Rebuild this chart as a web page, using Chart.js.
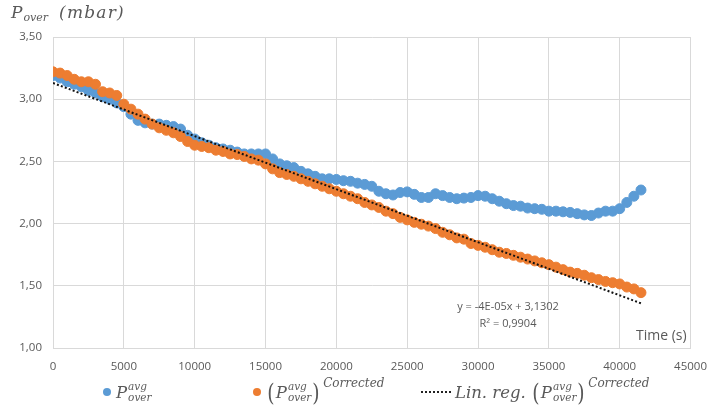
<!DOCTYPE html>
<html>
<head>
<meta charset="utf-8">
<script src="https://cdn.jsdelivr.net/npm/chart.js@4"></script>
<style>
    body { margin: 0; background: #fff; }
    #wrap { position: relative; width: 719px; height: 413px; }
    .math { font-family: 'DejaVu Serif', serif; font-style: italic; color: #595959; }
    #titulo { position: absolute; left: 11px; top: 2px; font-size: 17px; display: flex; align-items: flex-start; }
    #titulo .sub { font-size: 11px; margin-top: 9px; margin-left: 1px; }
    #titulo .unit { margin-left: 11px; letter-spacing: 1.2px; }
    .txt { position: absolute; font-family: 'Open Sans', sans-serif; color: #595959; white-space: nowrap; }
    #eq { left: 450px; top: 297px; font-size: 11px; line-height: 17px; text-align: center; width: 116px; }
    #tiempo { left: 636px; top: 325px; font-size: 14px; }
    .leg { position: absolute; top: 376px; height: 32px; display: flex; align-items: center; font-size: 16.5px; }
    .dot { width: 8px; height: 8px; border-radius: 50%; margin-right: 5px; }
    .ss { display: inline-flex; flex-direction: column; font-size: 10.5px; line-height: 11px; margin-left: 1px; }
    .par { font-family: 'DejaVu Serif', serif; font-style: normal; font-size: 25px; line-height: 25px; display: inline-block; transform: scaleX(0.75); }
    .sup { font-size: 12px; line-height: 12px; align-self: flex-start; margin-top: 1px; margin-left: 2px; }
    .dots { width: 30px; border-top: 2px dotted #222; margin-right: 4px; }
</style>
</head>
<body>
<div id="wrap">
    <canvas id="grafica" width="719" height="413"></canvas>
    <div id="titulo" class="math"><span>P</span><span class="sub">over</span><span class="unit">(mbar)</span></div>
    <div id="eq" class="txt">y = -4E-05x + 3,1302<br>R² = 0,9904</div>
    <div id="tiempo" class="txt">Time (s)</div>
    <div class="leg math" style="left:103px">
        <span class="dot" style="background:#5B9BD5"></span>P<span class="ss"><span>avg</span><span>over</span></span>
    </div>
    <div class="leg math" style="left:253px">
        <span class="dot" style="background:#ED7D31"></span><span class="par">(</span>P<span class="ss"><span>avg</span><span>over</span></span><span class="par">)</span><span class="sup">Corrected</span>
    </div>
    <div class="leg math" style="left:421px">
        <span class="dots"></span>Lin. reg.&nbsp;<span class="par">(</span>P<span class="ss"><span>avg</span><span>over</span></span><span class="par">)</span><span class="sup">Corrected</span>
    </div>
</div>
<script>
// ==========================================
// DATOS
// ==========================================
const tiempos = [
    0, 500, 1000, 1500, 2000, 2500, 3000, 3500, 4000, 4500,
    5000, 5500, 6000, 6500, 7000, 7500, 8000, 8500, 9000, 9500,
    10000, 10500, 11000, 11500, 12000, 12500, 13000, 13500, 14000, 14500,
    15000, 15500, 16000, 16500, 17000, 17500, 18000, 18500, 19000, 19500,
    20000, 20500, 21000, 21500, 22000, 22500, 23000, 23500, 24000, 24500,
    25000, 25500, 26000, 26500, 27000, 27500, 28000, 28500, 29000, 29500,
    30000, 30500, 31000, 31500, 32000, 32500, 33000, 33500, 34000, 34500,
    35000, 35500, 36000, 36500, 37000, 37500, 38000, 38500, 39000, 39500,
    40000, 40500, 41000, 41500
];

const pOverAvg = [
    3.19, 3.17, 3.14, 3.12, 3.10, 3.07, 3.05, 3.02, 3.00, 2.97,
    2.94, 2.88, 2.83, 2.81, 2.80, 2.80, 2.79, 2.78, 2.76, 2.71,
    2.68, 2.65, 2.63, 2.61, 2.60, 2.59, 2.575, 2.56, 2.56, 2.56,
    2.56, 2.52, 2.48, 2.465, 2.45, 2.42, 2.40, 2.38, 2.36, 2.36,
    2.355, 2.345, 2.34, 2.325, 2.315, 2.30, 2.26, 2.24, 2.23, 2.25,
    2.255, 2.235, 2.21, 2.21, 2.24, 2.225, 2.21, 2.20, 2.205, 2.21,
    2.225, 2.22, 2.20, 2.18, 2.16, 2.145, 2.14, 2.125, 2.12, 2.115,
    2.10, 2.10, 2.095, 2.09, 2.08, 2.07, 2.065, 2.085, 2.10, 2.10,
    2.12, 2.17, 2.22, 2.27
];

const pOverCorr = [
    3.22, 3.21, 3.19, 3.16, 3.14, 3.14, 3.12, 3.06, 3.05, 3.03,
    2.96, 2.92, 2.88, 2.84, 2.80, 2.77, 2.75, 2.73, 2.70, 2.66,
    2.63, 2.62, 2.61, 2.59, 2.58, 2.56, 2.555, 2.54, 2.52, 2.51,
    2.48, 2.44, 2.41, 2.395, 2.38, 2.36, 2.34, 2.32, 2.30, 2.28,
    2.26, 2.24, 2.22, 2.20, 2.17, 2.15, 2.13, 2.10, 2.08, 2.05,
    2.03, 2.01, 1.995, 1.98, 1.96, 1.93, 1.91, 1.885, 1.875, 1.84,
    1.825, 1.81, 1.79, 1.77, 1.76, 1.745, 1.73, 1.715, 1.70, 1.685,
    1.67, 1.65, 1.63, 1.61, 1.60, 1.585, 1.565, 1.55, 1.535, 1.525,
    1.515, 1.49, 1.475, 1.445
];

// recta de regresión (extremos leídos)
const regTiempos = [0, 41600];
const regValores = [3.13, 1.355];

const ticksY = [1.0, 1.5, 2.0, 2.5, 3.0, 3.5];

function puntos(xs, ys) {
    return xs.map((x, i) => ({ x: x, y: ys[i] }));
}

// ==========================================
// GRÁFICA
// ==========================================
const ctx = document.getElementById('grafica').getContext('2d');
const grafica = new Chart(ctx, {
    type: 'scatter',
    data: {
        datasets: [
            {
                label: 'Lin. reg.',
                data: puntos(regTiempos, regValores),
                showLine: true,
                borderColor: '#111',
                borderWidth: 2,
                borderDash: [2, 2.2],
                pointRadius: 0,
                order: 0
            },
            {
                label: 'Corrected',
                data: puntos(tiempos, pOverCorr),
                backgroundColor: '#ED7D31',
                borderColor: '#ED7D31',
                borderWidth: 1,
                pointRadius: 5,
                order: 1
            },
            {
                label: 'avg',
                data: puntos(tiempos, pOverAvg),
                backgroundColor: '#5B9BD5',
                borderColor: '#5B9BD5',
                borderWidth: 1,
                pointRadius: 5,
                order: 2
            }
        ]
    },
    options: {
        responsive: false,
        animation: false,
        layout: { padding: { top: 37, right: 17, left: 0, bottom: 0 } },
        plugins: {
            legend: { display: false },
            tooltip: { enabled: false }
        },
        scales: {
            x: {
                type: 'linear',
                min: 0,
                max: 45000,
                afterFit: (s) => { s.height = 65; },
                grid: { color: '#D9D9D9', drawTicks: false },
                border: { color: '#D9D9D9' },
                ticks: {
                    stepSize: 5000,
                    padding: 12,
                    color: '#595959',
                    font: { family: "'Open Sans', sans-serif", size: 11.5 },
                    maxRotation: 0,
                    callback: (v) => String(v)
                }
            },
            y: {
                min: 1,
                max: 3.5,
                afterFit: (s) => { s.width = 53; },
                afterBuildTicks: (s) => { s.ticks = ticksY.map(v => ({ value: v })); },
                grid: { color: '#D9D9D9', drawTicks: false },
                border: { color: '#D9D9D9' },
                ticks: {
                    padding: 11,
                    color: '#595959',
                    font: { family: "'Open Sans', sans-serif", size: 11.5 },
                    callback: (v) => v.toFixed(2).replace('.', ',')
                }
            }
        }
    }
});
</script>
</body>
</html>
